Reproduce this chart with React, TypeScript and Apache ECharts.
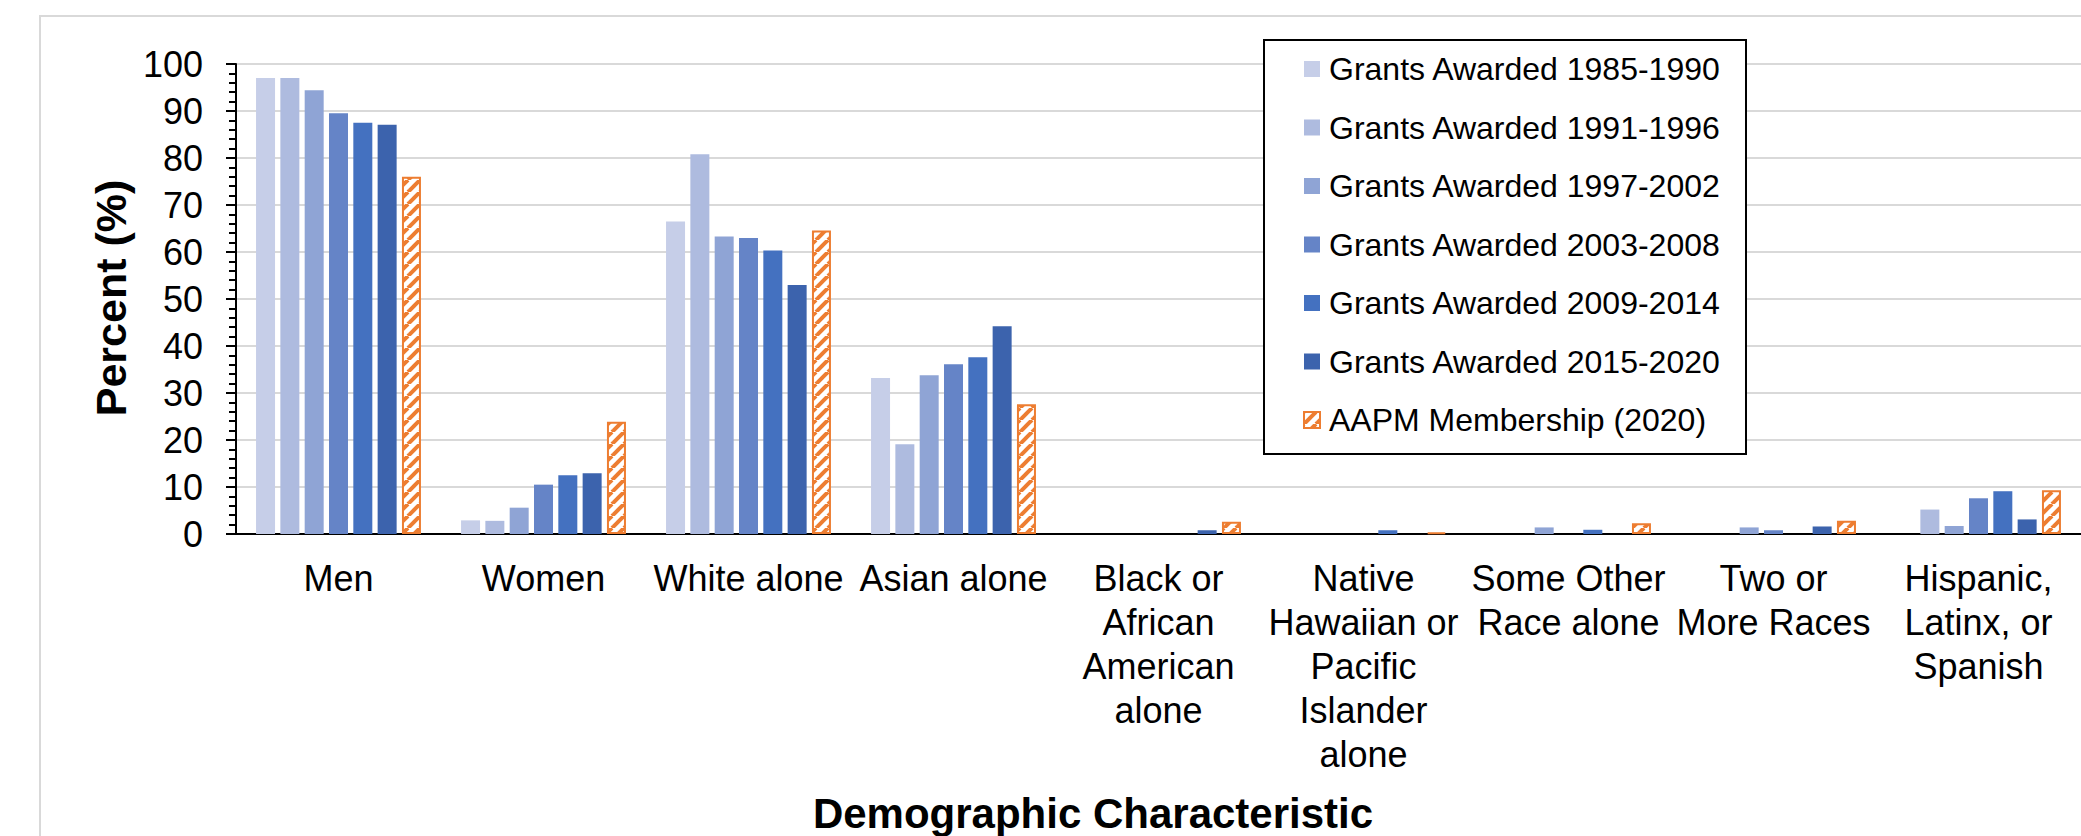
import React, { useEffect, useRef } from "react";
import * as echarts from "echarts";

const categories = [
  "Men",
  "Women",
  "White alone",
  "Asian alone",
  "Black or\nAfrican\nAmerican\nalone",
  "Native\nHawaiian or\nPacific\nIslander\nalone",
  "Some Other\nRace alone",
  "Two or\nMore Races",
  "Hispanic,\nLatinx, or\nSpanish",
];

const seriesNames = [
  "Grants Awarded 1985-1990",
  "Grants Awarded 1991-1996",
  "Grants Awarded 1997-2002",
  "Grants Awarded 2003-2008",
  "Grants Awarded 2009-2014",
  "Grants Awarded 2015-2020",
  "AAPM Membership (2020)",
];

const grants1985 = [97.0, 2.9, 66.5, 33.2, 0, 0, 0, 0, 0];
const grants1991 = [97.0, 2.8, 80.8, 19.1, 0, 0, 0, 0, 5.2];
const grants1997 = [94.4, 5.6, 63.3, 33.8, 0, 0, 1.4, 1.4, 1.7];
const grants2003 = [89.5, 10.5, 63.0, 36.1, 0, 0, 0, 0.8, 7.6];
const grants2009 = [87.5, 12.5, 60.3, 37.6, 0, 0.8, 0.9, 0, 9.1];
const grants2015 = [87.1, 12.9, 53.0, 44.2, 0.8, 0, 0, 1.6, 3.1];
const aapm2020 = [76.0, 23.9, 64.6, 27.6, 2.6, 0.3, 2.3, 2.8, 9.3];

const yTicks = [0, 10, 20, 30, 40, 50, 60, 70, 80, 90, 100];

const blueColors = ["#c6cee8", "#aebbdf", "#8fa4d5", "#6584c7", "#4471c0", "#3c63ad"];
const orange = "#ed7d31";
const FONT = "'Liberation Sans', Arial, Helvetica, sans-serif";

function makeHatch(): HTMLCanvasElement {
  const c = document.createElement("canvas");
  const s = 12;
  c.width = s;
  c.height = s;
  const ctx = c.getContext("2d")!;
  ctx.fillStyle = "#ffffff";
  ctx.fillRect(0, 0, s, s);
  ctx.strokeStyle = orange;
  ctx.lineWidth = 4;
  for (const o of [-s, 0, s]) {
    ctx.beginPath();
    ctx.moveTo(o, s);
    ctx.lineTo(o + s, 0);
    ctx.stroke();
  }
  return c;
}

export default function App() {
  const ref = useRef<HTMLDivElement>(null);

  useEffect(() => {
    document.body.style.margin = "0";
    if (!ref.current) return;
    const chart = echarts.init(ref.current, null, { renderer: "svg" });
    const hatch = makeHatch();
    const grantData = [grants1985, grants1991, grants1997, grants2003, grants2009, grants2015];

    const series: any[] = grantData.map((d, i) => ({
      name: seriesNames[i],
      type: "bar",
      data: d,
      barWidth: 19,
      barGap: "28%",
      itemStyle: { color: blueColors[i] },
    }));
    series.push({
      name: seriesNames[6],
      type: "bar",
      data: aapm2020,
      barWidth: 19,
      barGap: "28%",
      itemStyle: {
        color: { image: hatch, repeat: "repeat" },
        borderColor: orange,
        borderWidth: 2,
      },
    });

    chart.setOption({
      animation: false,
      backgroundColor: "#ffffff",
      textStyle: { fontFamily: FONT },
      grid: { left: 236, top: 64, width: 1858, height: 470, containLabel: false },
      legend: {
        orient: "vertical",
        left: 1303,
        top: 53,
        padding: 0,
        itemWidth: 16,
        itemHeight: 16,
        itemGap: 26.5,
        icon: "rect",
        data: seriesNames,
        textStyle: {
          fontSize: 32,
          lineHeight: 31,
          color: "#000",
          fontFamily: FONT,
          padding: [0, 0, 0, 4],
        },
        selectedMode: false,
        z: 6,
      },
      xAxis: {
        type: "category",
        data: categories,
        axisLine: { lineStyle: { color: "#000", width: 2 } },
        axisTick: { show: false },
        axisLabel: {
          interval: 0,
          fontSize: 36,
          lineHeight: 44,
          margin: 22,
          color: "#000",
          fontFamily: FONT,
        },
      },
      yAxis: {
        type: "value",
        min: yTicks[0],
        max: yTicks[yTicks.length - 1],
        interval: 10,
        axisLine: { show: true, lineStyle: { color: "#000", width: 2 } },
        axisTick: { show: true, length: 10, lineStyle: { color: "#000", width: 2 } },
        minorTick: { show: true, splitNumber: 5, length: 7, lineStyle: { color: "#000", width: 2 } },
        splitLine: { show: true, lineStyle: { color: "#d9d9d9", width: 2 } },
        axisLabel: { fontSize: 36, margin: 33, color: "#000", fontFamily: FONT },
      },
      graphic: [
        {
          type: "rect",
          z: 0,
          silent: true,
          shape: { x: 40, y: 16, width: 2300, height: 1000 },
          style: { fill: "none", stroke: "#d9d9d9", lineWidth: 2 },
        },
        {
          type: "rect",
          z: 5,
          silent: true,
          shape: { x: 1264, y: 40, width: 482, height: 414 },
          style: { fill: "#ffffff", stroke: "#000", lineWidth: 2 },
        },
        {
          type: "text",
          x: 111,
          y: 298,
          rotation: Math.PI / 2,
          z: 5,
          style: {
            text: "Percent (%)",
            fontSize: 43,
            fontWeight: "bold",
            fontFamily: FONT,
            fill: "#000",
            align: "center",
            verticalAlign: "middle",
            textAlign: "center",
            textVerticalAlign: "middle",
          },
        },
        {
          type: "text",
          x: 1093,
          y: 813,
          z: 5,
          style: {
            text: "Demographic Characteristic",
            fontSize: 42,
            fontWeight: "bold",
            fontFamily: FONT,
            fill: "#000",
            align: "center",
            verticalAlign: "middle",
            textAlign: "center",
            textVerticalAlign: "middle",
          },
        },
      ],
      series,
    });
    return () => chart.dispose();
  }, []);

  return <div ref={ref} style={{ width: 2081, height: 836 }} />;
}
